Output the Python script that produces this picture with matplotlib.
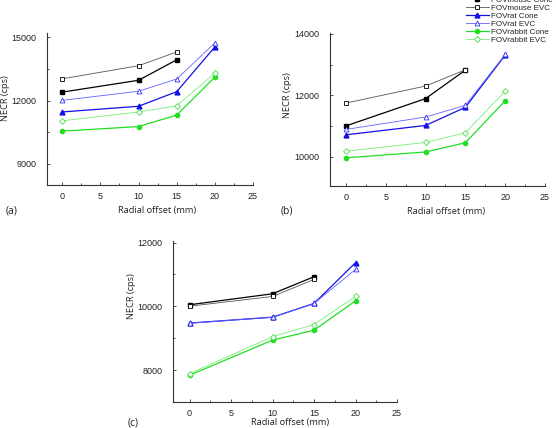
import numpy as np
import matplotlib
matplotlib.use("Agg")
import matplotlib.pyplot as plt
from matplotlib.ticker import MultipleLocator

# Radial offsets (mm)
offsets = [0, 10, 15, 20]

# NECR (cps); mouse FOV has no 20 mm point
a_mouse_cone = [12400, 12960, 13930]
a_mouse_evc = [13030, 13650, 14300]
a_rat_cone = [11460, 11730, 12420, 14540]
a_rat_evc = [12010, 12440, 13020, 14730]
a_rabbit_cone = [10550, 10770, 11310, 13110]
a_rabbit_evc = [11040, 11460, 11750, 13300]

b_mouse_cone = [11000, 11890, 12820]
b_mouse_evc = [11745, 12300, 12830]
b_rat_cone = [10710, 11015, 11605, 13310]
b_rat_evc = [10885, 11290, 11670, 13330]
b_rabbit_cone = [9960, 10150, 10450, 11820]
b_rabbit_evc = [10175, 10460, 10775, 12135]

c_mouse_cone = [10050, 10395, 10930]
c_mouse_evc = [10005, 10310, 10845]
c_rat_cone = [9475, 9660, 10090, 11370]
c_rat_evc = [9470, 9660, 10090, 11160]
c_rabbit_cone = [7840, 8940, 9250, 10175]
c_rabbit_evc = [7890, 9050, 9430, 10310]

labels = ["FOVmouse Cone", "FOVmouse EVC", "FOVrat Cone", "FOVrat EVC",
          "FOVrabbit Cone", "FOVrabbit EVC"]

styles = [
    dict(color="black", marker="s", mfc="black", mec="black", lw=0.9, ms=3),
    dict(color="#555555", marker="s", mfc="white", mec="black", lw=0.6, ms=3, mew=0.6),
    dict(color="#1010e6", marker="^", mfc="#1010e6", mec="#1010e6", lw=0.9, ms=3.5),
    dict(color="#6060ff", marker="^", mfc="white", mec="#3030f0", lw=0.6, ms=3.5, mew=0.6),
    dict(color="#22dd22", marker="o", mfc="#22dd22", mec="#22dd22", lw=0.9, ms=3),
    dict(color="#77ee77", marker="D", mfc="white", mec="#44dd44", lw=0.6, ms=3, mew=0.6),
]

W, H = 556, 428
fig = plt.figure(figsize=(W / 100, H / 100), dpi=100)


def px_axes(left, top, right, bottom):
    return fig.add_axes([left / W, 1 - bottom / H, (right - left) / W, (bottom - top) / H])


def draw_panel(ax, series, ylim, ymajor):
    lines = []
    for vals, st in zip(series, styles):
        ln, = ax.plot(offsets[:len(vals)], vals, **st)
        lines.append(ln)
    ax.set_xlim(-2, 25)
    ax.set_ylim(*ylim)
    ax.xaxis.set_major_locator(MultipleLocator(5))
    ax.xaxis.set_minor_locator(MultipleLocator(2.5))
    ax.yaxis.set_major_locator(MultipleLocator(ymajor))
    ax.yaxis.set_minor_locator(MultipleLocator(ymajor / 2))
    ax.spines["top"].set_visible(False)
    ax.spines["right"].set_visible(False)
    for s in ("left", "bottom"):
        ax.spines[s].set_linewidth(0.8)
        ax.spines[s].set_color("#333333")
    ax.tick_params(which="both", direction="in", width=0.6, labelsize=6.5,
                   colors="#333333", labelcolor="#222222")
    ax.tick_params(axis="x", pad=5)
    ax.tick_params(axis="y", pad=7.5)
    ax.tick_params(which="major", length=2.5)
    ax.tick_params(which="minor", length=1.5)
    for lab in ax.get_xticklabels() + ax.get_yticklabels():
        lab.set_family("Liberation Sans")
    return lines


ax_a = px_axes(47, 33, 253, 185)
lines = draw_panel(ax_a, [a_mouse_cone, a_mouse_evc, a_rat_cone, a_rat_evc,
                          a_rabbit_cone, a_rabbit_evc], (8000, 15200), 3000)

ax_b = px_axes(330, 33, 545, 186)
draw_panel(ax_b, [b_mouse_cone, b_mouse_evc, b_rat_cone, b_rat_evc,
                  b_rabbit_cone, b_rabbit_evc], (9040, 14030), 2000)

ax_c = px_axes(173, 241, 397, 402)
draw_panel(ax_c, [c_mouse_cone, c_mouse_evc, c_rat_cone, c_rat_evc,
                  c_rabbit_cone, c_rabbit_evc], (7000, 12050), 2000)

lab_font = dict(family="Open Sans", fontsize=6.7, color="#222222")


def ftext(x, y, s, **kw):
    fig.text(x / W, 1 - y / H, s, ha="center", va="center", **kw)


ftext(157, 211, "Radial offset (mm)", **lab_font)
ftext(446, 212, "Radial offset (mm)", **lab_font)
ftext(290, 423, "Radial offset (mm)", **lab_font)
ftext(6, 98, "NECR (cps)", rotation=90, **lab_font)
ftext(287, 95, "NECR (cps)", rotation=90, **lab_font)
ftext(131, 296, "NECR (cps)", rotation=90, **lab_font)
ftext(12, 211, "(a)", family="Open Sans", fontsize=7.5, color="#222222")
ftext(287, 211, "(b)", family="Open Sans", fontsize=7.5, color="#222222")
ftext(133, 423, "(c)", family="Open Sans", fontsize=7.5, color="#222222")

fig.legend(lines, labels, loc="upper left", bbox_to_anchor=(466 / W, 1 + 4 / H),
           frameon=False, prop=dict(family="Liberation Sans", size=5.8),
           labelspacing=0.05, handlelength=2.8, handletextpad=0.3,
           borderpad=0, borderaxespad=0, labelcolor="#222222")

fig.savefig("out.png", dpi=100)
